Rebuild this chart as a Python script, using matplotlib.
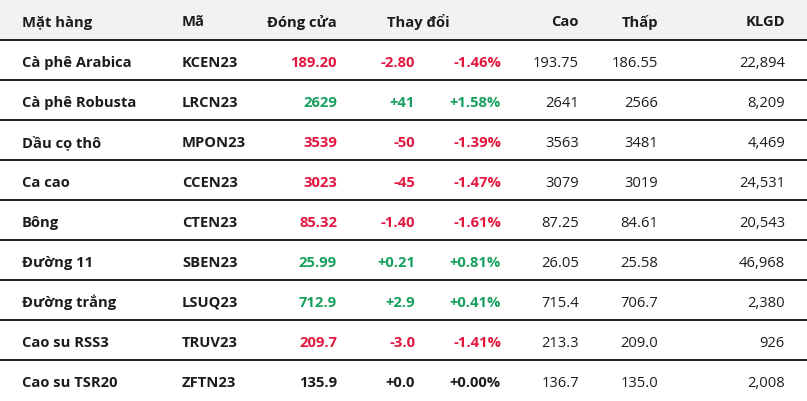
import matplotlib.pyplot as plt
from matplotlib.patches import Rectangle

# table data
headers = ["Mặt hàng", "Mã", "Đóng cửa", "Thay đổi", "Cao", "Thấp", "KLGD"]
names = ["Cà phê Arabica", "Cà phê Robusta", "Dầu cọ thô", "Ca cao", "Bông",
         "Đường 11", "Đường trắng", "Cao su RSS3", "Cao su TSR20"]
codes = ["KCEN23", "LRCN23", "MPON23", "CCEN23", "CTEN23",
         "SBEN23", "LSUQ23", "TRUV23", "ZFTN23"]
close = ["189.20", "2629", "3539", "3023", "85.32", "25.99", "712.9", "209.7", "135.9"]
change = ["-2.80", "+41", "-50", "-45", "-1.40", "+0.21", "+2.9", "-3.0", "+0.0"]
pct = ["-1.46%", "+1.58%", "-1.39%", "-1.47%", "-1.61%", "+0.81%", "+0.41%", "-1.41%", "+0.00%"]
high = ["193.75", "2641", "3563", "3079", "87.25", "26.05", "715.4", "213.3", "136.7"]
low = ["186.55", "2566", "3481", "3019", "84.61", "25.58", "706.7", "209.0", "135.0"]
volume = ["22,894", "8,209", "4,469", "24,531", "20,543", "46,968", "2,380", "926", "2,008"]

RED = "#e3173e"
GREEN = "#17a05d"
DARK = "#1c1c1c"

W, H = 807, 402
fig = plt.figure(figsize=(W / 100, H / 100), dpi=100)
ax = fig.add_axes([0, 0, 1, 1])
ax.set_xlim(0, W)
ax.set_ylim(H, 0)
ax.axis("off")

plt.rcParams['font.family'] = ['Open Sans', 'DejaVu Sans']
fs = 10.6

head_h = 41
row_h = 40


def cell(x, y, s, ha, bold=True, color=DARK):
    ax.text(x, y, s, ha=ha, va="baseline", fontsize=fs,
            fontweight="bold" if bold else "normal", color=color)


# header band
ax.add_patch(Rectangle((0, 0), W, head_h, color="#f2f2f2", lw=0))
hy = 26.5
cell(22, hy, headers[0], "left")
cell(182, hy, headers[1], "left")
cell(337, hy, headers[2], "right")
cell(418.5, hy, headers[3], "center")
cell(579, hy, headers[4], "right")
cell(658, hy, headers[5], "right")
cell(785, hy, headers[6], "right")

for i in range(len(names)):
    top = head_h + i * row_h
    ax.plot([0, W], [top, top], color="#111111", lw=1.3, solid_capstyle="butt")
    y = top + 25.8
    if change[i].startswith("-"):
        c = RED
    elif float(change[i]) > 0:
        c = GREEN
    else:
        c = DARK
    cell(22, y, names[i], "left")
    cell(182, y, codes[i], "left")
    cell(337, y, close[i], "right", color=c)
    cell(415, y, change[i], "right", color=c)
    cell(501, y, pct[i], "right", color=c)
    cell(579, y, high[i], "right", bold=False)
    cell(658, y, low[i], "right", bold=False)
    cell(785, y, volume[i], "right", bold=False)

fig.savefig("out.png", dpi=100)
